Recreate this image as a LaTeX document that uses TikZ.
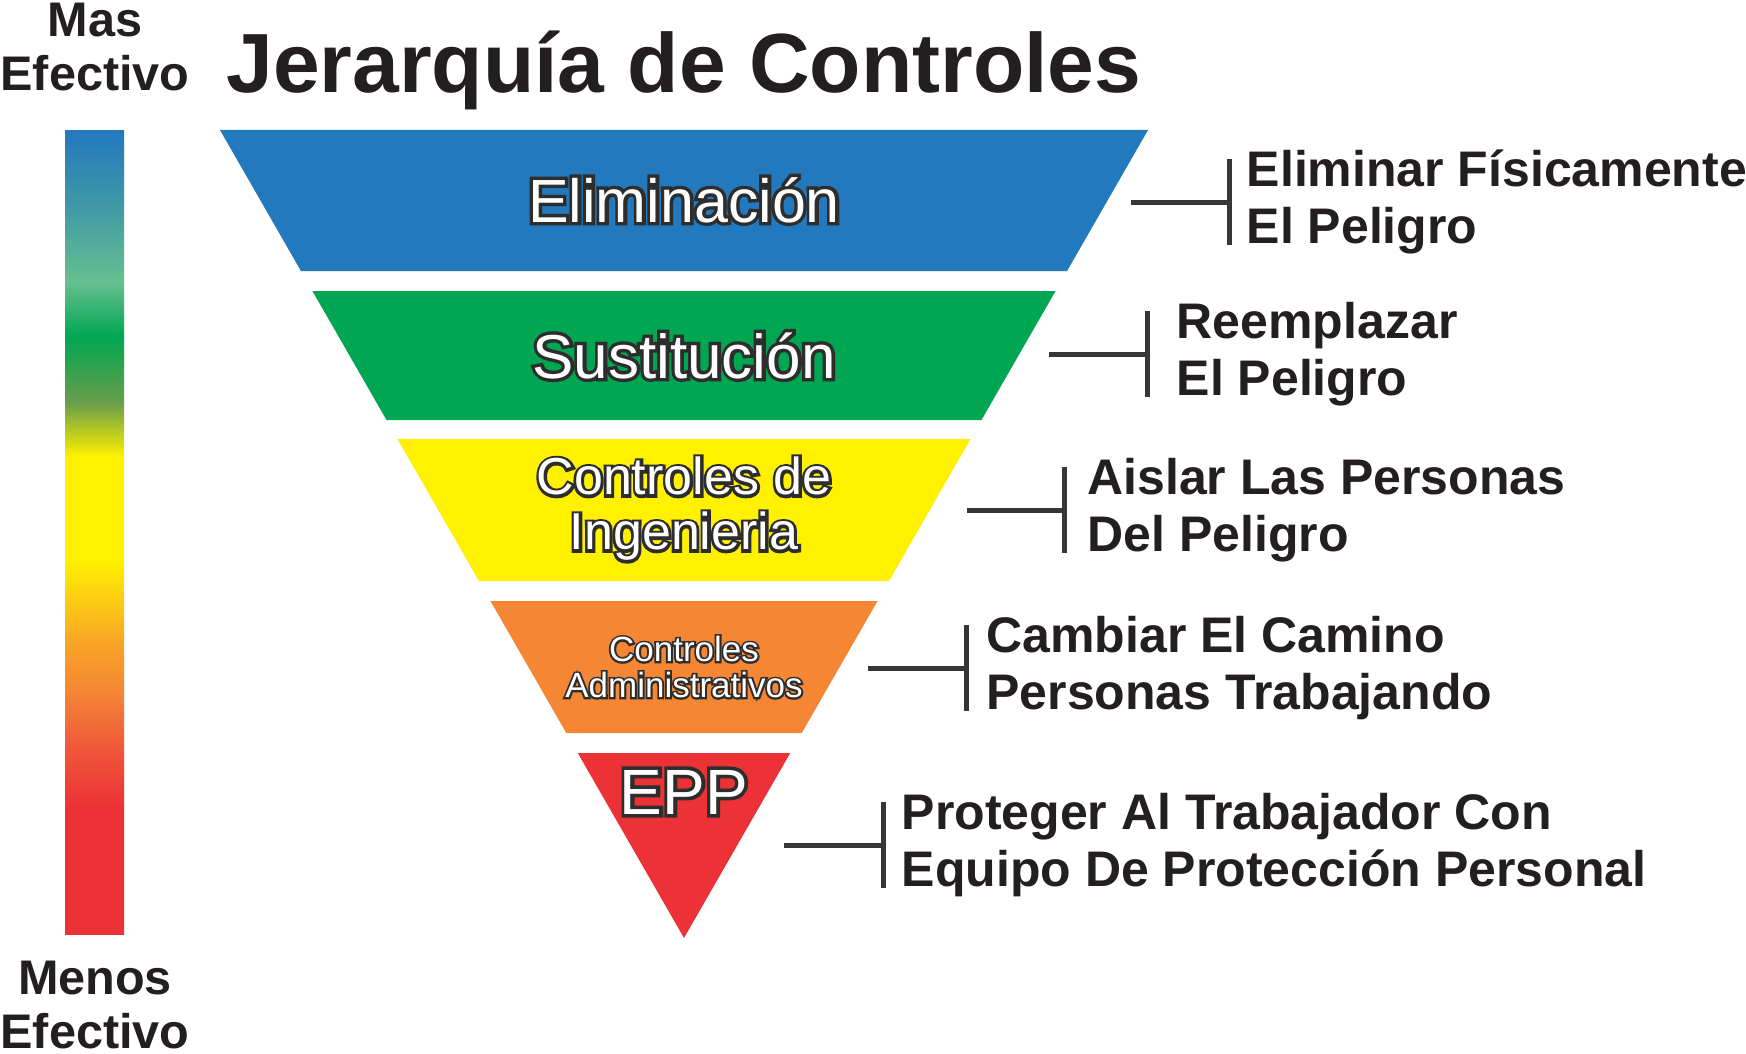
\documentclass[tikz,border=0pt]{standalone}
\usepackage{fontspec}
\setmainfont{Liberation Sans}
\newfontfamily\rimfont[FakeBold=11]{Liberation Sans}
\usepackage{tikz}
\usetikzlibrary{calc,positioning}
\definecolor{elimblue}{RGB}{35,121,190}
\definecolor{sustgreen}{RGB}{0,166,81}
\definecolor{ingyellow}{RGB}{255,241,0}
\definecolor{admorange}{RGB}{245,134,52}
\definecolor{eppred}{RGB}{237,50,55}
\definecolor{tealc}{RGB}{62,150,168}
\definecolor{mint}{RGB}{102,192,143}
\definecolor{olive}{RGB}{106,158,74}
\definecolor{amber}{RGB}{249,168,37}
\definecolor{flame}{RGB}{240,90,58}
\definecolor{ink}{RGB}{35,31,32}
\definecolor{rim}{RGB}{45,45,45}
\definecolor{linkgray}{RGB}{55,53,55}
\newcommand\outl[1]{\rlap{\color{rim}\rimfont #1}#1}

\begin{document}
\begin{tikzpicture}[x=0.5pt,y=-0.5pt,
    bandlabel/.style={text=white,inner sep=0pt},
    sidelabel/.style={text=ink,align=center,inner sep=0pt,font=\fontsize{24.3pt}{27pt}\selectfont\bfseries},
    desc/.style={text=ink,anchor=west,align=left,inner sep=0pt,font=\fontsize{25pt}{28.5pt}\selectfont\bfseries},
    link/.style={draw=linkgray,line width=2.5pt}]
    \useasboundingbox (0,0) rectangle (1746,1054);
    % effectiveness bar
    \foreach \ya/\yb/\ca/\cb in {131/201/elimblue/tealc, 201/282/tealc/mint, 282/336/mint/sustgreen,
                                 336/403/sustgreen/olive, 403/456/olive/ingyellow, 456/560/ingyellow/ingyellow,
                                 560/638/ingyellow/amber, 638/691/amber/admorange, 691/745/admorange/flame,
                                 745/805/flame/eppred, 805/934/eppred/eppred}
      \shade[top color=\ca,bottom color=\cb] (65,\ya) rectangle (124,\yb+0.6);
    \node[sidelabel] (mas) at (95,47) {Mas\\Efectivo};
    \node[sidelabel] (menos) at (95,1005) {Menos\\Efectivo};
    \node[anchor=base,text=ink,font=\fontsize{42pt}{48pt}\selectfont\bfseries] (title) at (684,93) {Jerarquía de Controles};
    % inverted pyramid
    \foreach \ya/\yb/\col in {130/271/elimblue, 291/420/sustgreen, 439/581/ingyellow, 601/733/admorange, 753/938/eppred}
      \fill[\col] ({684-0.5743*(938-\ya)},\ya) -- ({684+0.5743*(938-\ya)},\ya)
                  -- ({684+0.5743*(938-\yb)},\yb) -- ({684-0.5743*(938-\yb)},\yb) -- cycle;
    \node[bandlabel,anchor=base,font=\fontsize{30.5pt}{34pt}\selectfont] (elim) at (684,222) {\outl{Eliminación}};
    \node[bandlabel,anchor=base,font=\fontsize{31pt}{34pt}\selectfont] (sust) at (684,378) {\outl{Sustitución}};
    \node[bandlabel,align=center,font=\fontsize{26pt}{27.5pt}\selectfont] (ing) at (684,509) {\outl{Controles de}\\\outl{Ingenieria}};
    \node[bandlabel,align=center,font=\fontsize{17.5pt}{18pt}\selectfont] (adm) at (684,667) {\outl{Controles}\\\outl{Administrativos}};
    \node[bandlabel,anchor=base,font=\fontsize{32pt}{36pt}\selectfont] (epp) at (684,814) {\outl{EPP}};
    % brackets
    \foreach \n/\xs/\xb/\y in {1/1131/1229/202, 2/1049/1147/354, 3/967/1064/510, 4/868/966/668, 5/784/883/845} {
      \coordinate (s\n) at (\xs,\y);
      \coordinate (b\n) at (\xb,\y);
      \coordinate (t\n) at (\xb,\y-43);
      \coordinate (u\n) at (\xb,\y+43);
      \draw[link] (s\n) -- (b\n);
      \draw[link] (t\n) -- (u\n);
    }
    \node[desc,right=8.7pt of b1] (d1) {Eliminar Físicamente\\El Peligro};
    \node[desc,right=14.7pt of b2] (d2) {Reemplazar\\El Peligro};
    \node[desc,right=11.5pt of b3] (d3) {Aislar Las Personas\\Del Peligro};
    \node[desc,right=10pt of b4] (d4) {Cambiar El Camino\\Personas Trabajando};
    \node[desc,right=9.2pt of b5] (d5) {Proteger Al Trabajador Con\\Equipo De Protección Personal};
\end{tikzpicture}
\end{document}
